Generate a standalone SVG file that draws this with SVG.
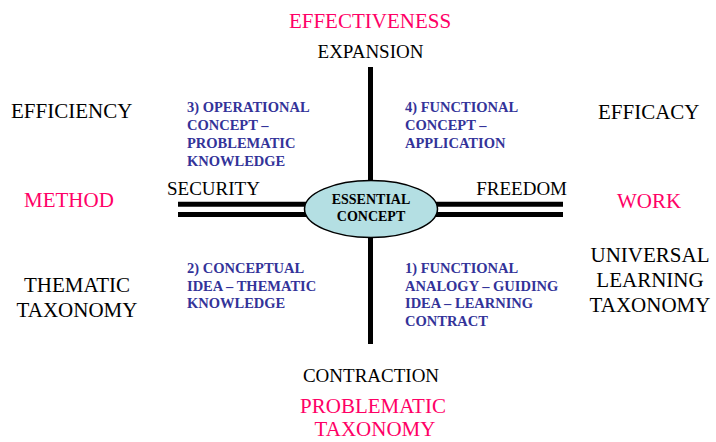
<svg xmlns="http://www.w3.org/2000/svg" width="716" height="442" viewBox="0 0 716 442">
<style>
.big{font-family:"Liberation Serif","Times New Roman",serif;font-size:21px;fill:#000}
.mid{font-family:"Liberation Serif","Times New Roman",serif;font-size:19px;fill:#000}
.pink{fill:#ff0066}
.blue{font-family:"Liberation Serif","Times New Roman",serif;font-size:14.5px;font-weight:bold;fill:#333399}
.core{font-family:"Liberation Serif","Times New Roman",serif;font-size:14px;font-weight:bold;fill:#000}
.bar{stroke:#000;stroke-width:5;fill:none}
</style>
<rect width="716" height="442" fill="#fff"/>
<g id="connectors">
<line class="bar" x1="370.5" y1="67" x2="370.5" y2="344"/>
<line class="bar" x1="178" y1="204.2" x2="320" y2="204.2"/>
<line class="bar" x1="178" y1="214.5" x2="320" y2="214.5"/>
<line class="bar" x1="422" y1="204.2" x2="563" y2="204.2"/>
<line class="bar" x1="422" y1="214.5" x2="563" y2="214.5"/>
</g>
<g id="essential-concept">
<ellipse cx="371" cy="209" rx="66.5" ry="28.5" fill="#b4dfe3" stroke="#000" stroke-width="1.5"/>
<text class="core" x="371" y="204" text-anchor="middle">ESSENTIAL</text>
<text class="core" x="371" y="220.5" text-anchor="middle">CONCEPT</text>
</g>
<g id="effectiveness"><text class="big pink" x="370" y="28" text-anchor="middle">EFFECTIVENESS</text></g>
<g id="expansion"><text class="mid" x="370.5" y="58.3" text-anchor="middle">EXPANSION</text></g>
<g id="efficiency"><text class="big" x="11" y="118">EFFICIENCY</text></g>
<g id="efficacy"><text class="big" x="598" y="119">EFFICACY</text></g>
<g id="method"><text class="big pink" x="24" y="207">METHOD</text></g>
<g id="work"><text class="big pink" x="617" y="208">WORK</text></g>
<g id="security"><text class="mid" x="167" y="195">SECURITY</text></g>
<g id="freedom"><text class="mid" x="567" y="195" text-anchor="end">FREEDOM</text></g>
<g id="thematic-taxonomy">
<text class="big" x="77" y="292" text-anchor="middle">THEMATIC</text>
<text class="big" x="77" y="317" text-anchor="middle">TAXONOMY</text>
</g>
<g id="universal-learning-taxonomy">
<text class="big" x="650" y="262" text-anchor="middle">UNIVERSAL</text>
<text class="big" x="650" y="287" text-anchor="middle">LEARNING</text>
<text class="big" x="650" y="312" text-anchor="middle">TAXONOMY</text>
</g>
<g id="contraction"><text class="mid" x="371" y="382" text-anchor="middle">CONTRACTION</text></g>
<g id="problematic-taxonomy">
<text class="big pink" x="373" y="413" text-anchor="middle">PROBLEMATIC</text>
<text class="big pink" x="375" y="436" text-anchor="middle">TAXONOMY</text>
</g>
<g id="q3">
<text class="blue" x="187" y="111.7">3) OPERATIONAL</text>
<text class="blue" x="187" y="130">CONCEPT –</text>
<text class="blue" x="187" y="148.3">PROBLEMATIC</text>
<text class="blue" x="187" y="166">KNOWLEDGE</text>
</g>
<g id="q4">
<text class="blue" x="405" y="111.7">4) FUNCTIONAL</text>
<text class="blue" x="405" y="130">CONCEPT –</text>
<text class="blue" x="405" y="148.3">APPLICATION</text>
</g>
<g id="q2">
<text class="blue" x="187" y="272.7">2) CONCEPTUAL</text>
<text class="blue" x="187" y="290.7">IDEA – THEMATIC</text>
<text class="blue" x="187" y="308.3">KNOWLEDGE</text>
</g>
<g id="q1">
<text class="blue" x="405" y="272.7">1) FUNCTIONAL</text>
<text class="blue" x="405" y="290.7">ANALOGY – GUIDING</text>
<text class="blue" x="405" y="308.3">IDEA – LEARNING</text>
<text class="blue" x="405" y="326">CONTRACT</text>
</g>
</svg>
